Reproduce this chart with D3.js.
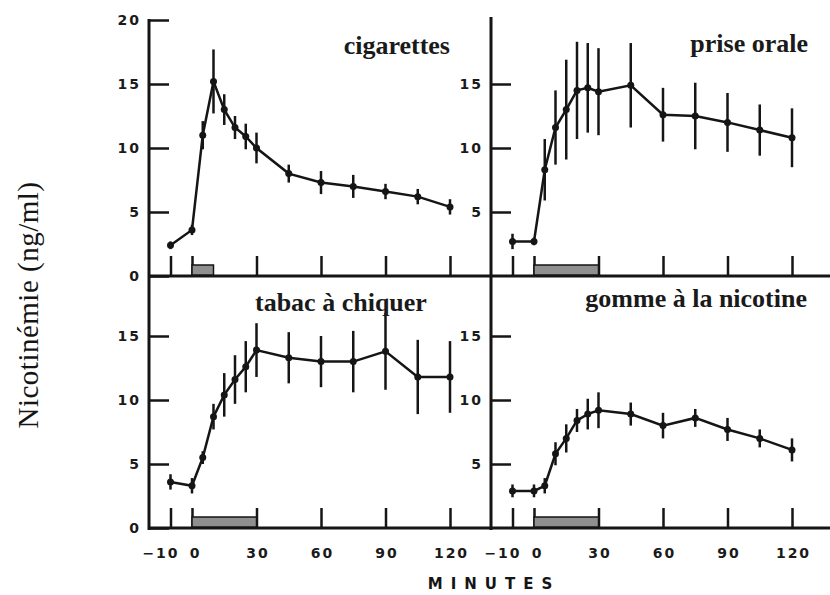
<!DOCTYPE html>
<html>
<head>
<meta charset="utf-8">
<script src="https://cdn.jsdelivr.net/npm/d3@7"></script>
<style>
  body { margin: 0; background: #fff; }
  .tick text { font-family: "DejaVu Sans", sans-serif; font-weight: bold; font-size: 14px; letter-spacing: 2px; fill: #1a1a1a; }
  .title { font-family: "Liberation Serif", "Times New Roman", serif; font-weight: bold; font-size: 26px; fill: #1a1a1a; }
</style>
</head>
<body>
<div id="chart"></div>
<script>
// data
var minutes = [-10, 0, 5, 10, 15, 20, 25, 30, 45, 60, 75, 90, 105, 120];

var cigarettes    = [2.4, 3.6, 11.0, 15.2, 13.0, 11.6, 10.9, 10.0, 8.0, 7.3, 7.0, 6.6, 6.2, 5.4];
var cigarettesErr = [0.3, 0.4, 1.1, 2.5, 1.2, 0.9, 1.0, 1.2, 0.7, 0.9, 0.9, 0.6, 0.6, 0.6];

var priseOrale    = [2.7, 2.7, 8.3, 11.6, 13.0, 14.5, 14.7, 14.4, 14.9, 12.6, 12.5, 12.0, 11.4, 10.8];
var priseOraleErr = [0.6, 0.3, 2.4, 2.9, 3.9, 3.8, 3.5, 3.4, 3.3, 2.1, 2.6, 2.3, 2.0, 2.3];

var tabac    = [3.6, 3.3, 5.5, 8.7, 10.4, 11.6, 12.6, 13.9, 13.3, 13.0, 13.0, 13.8, 11.8, 11.8];
var tabacErr = [0.6, 0.6, 0.5, 1.0, 1.7, 1.9, 2.0, 2.1, 2.0, 2.0, 2.4, 3.0, 2.9, 2.8];

var gomme    = [2.9, 2.9, 3.3, 5.8, 7.0, 8.4, 8.9, 9.2, 8.9, 8.0, 8.6, 7.7, 7.0, 6.1];
var gommeErr = [0.5, 0.5, 0.6, 0.9, 1.1, 0.9, 1.2, 1.4, 0.9, 1.0, 0.7, 0.9, 0.7, 0.9];

var panelNames = ["cigarettes", "prise orale", "tabac à chiquer", "gomme à la nicotine"];
var exposureStart = [0, 0, 0, 0];
var exposureEnd   = [10, 30, 30, 30];

var xTicks = [-10, 0, 30, 60, 90, 120];
var yTicksTopLeft = [0, 5, 10, 15, 20];
var yTicksTopRight = [5, 10, 15];
var yTicksBottomLeft = [0, 5, 10, 15];
var yTicksBottomRight = [5, 10, 15];

// layout
var svgWidth = 830, svgHeight = 595;
var ink = "#151515";

var svg = d3.select("#chart").append("svg")
  .attr("width", svgWidth)
  .attr("height", svgHeight);

var panels = [
  { col: 0, row: 0, values: cigarettes, err: cigarettesErr, yTicks: yTicksTopLeft,
    title: { x: 450, y: 54, anchor: "end" } },
  { col: 1, row: 0, values: priseOrale, err: priseOraleErr, yTicks: yTicksTopRight,
    title: { x: 808, y: 52, anchor: "end" } },
  { col: 0, row: 1, values: tabac, err: tabacErr, yTicks: yTicksBottomLeft,
    title: { x: 255, y: 311, anchor: "start" } },
  { col: 1, row: 1, values: gomme, err: gommeErr, yTicks: yTicksBottomRight,
    title: { x: 807, y: 307, anchor: "end" } }
];

var axisX = [149, 491];       // vertical axis line of each column
var baseY = [276, 528];       // zero line of each row

// frame
svg.append("line").attr("x1", 149).attr("x2", 149).attr("y1", 19).attr("y2", 530)
  .attr("stroke", ink).attr("stroke-width", 3);
svg.append("line").attr("x1", 491).attr("x2", 491).attr("y1", 17).attr("y2", 530)
  .attr("stroke", ink).attr("stroke-width", 3);
baseY.forEach(function (y) {
  svg.append("line").attr("x1", 148).attr("x2", 830).attr("y1", y).attr("y2", y)
    .attr("stroke", ink).attr("stroke-width", 3);
});

panels.forEach(function (p, idx) {
  var x0 = 192 + p.col * 342;
  var x = d3.scaleLinear().domain([0, 120]).range([x0, x0 + 258]);
  var y = d3.scaleLinear().domain([0, 20]).range([baseY[p.row], baseY[p.row] - 256]);

  var g = svg.append("g");

  // y axis (ticks point inward)
  var yAxis = g.append("g")
    .attr("transform", "translate(" + axisX[p.col] + ",0)")
    .call(d3.axisLeft(y).tickValues(p.yTicks).tickSizeInner(-20).tickSizeOuter(0).tickPadding(8));
  yAxis.select(".domain").remove();
  yAxis.selectAll(".tick line").attr("stroke", ink).attr("stroke-width", 2.5);

  // x tick marks standing on the zero line
  var xMarks = g.append("g")
    .attr("transform", "translate(0," + baseY[p.row] + ")")
    .call(d3.axisTop(x).tickValues(xTicks).tickSize(20).tickFormat(""));
  xMarks.select(".domain").remove();
  xMarks.selectAll(".tick line").attr("stroke", ink).attr("stroke-width", 2.5);

  // x tick labels under the bottom row
  if (p.row === 1) {
    var xLab = g.append("g")
      .attr("transform", "translate(0," + baseY[p.row] + ")")
      .call(d3.axisBottom(x).tickValues(xTicks).tickSize(0).tickPadding(20)
        .tickFormat(function (d) { return d < 0 ? "\u2212" + Math.abs(d) : d; }));
    xLab.select(".domain").remove();
    xLab.selectAll(".tick text")
      .attr("dx", function (d) { return d < 0 ? -10 : (d === 0 ? 3 : 1); });
  }

  // exposure bar
  g.append("rect")
    .attr("x", x(exposureStart[idx]))
    .attr("y", baseY[p.row] - 11)
    .attr("width", x(exposureEnd[idx]) - x(exposureStart[idx]))
    .attr("height", 10)
    .attr("fill", "#8f8f8f")
    .attr("stroke", ink)
    .attr("stroke-width", 1.5);

  var pts = minutes.map(function (m, i) { return { t: m, v: p.values[i], e: p.err[i] }; });

  // error bars
  g.selectAll(null).data(pts).enter().append("line")
    .attr("x1", function (d) { return x(d.t); })
    .attr("x2", function (d) { return x(d.t); })
    .attr("y1", function (d) { return y(d.v + d.e); })
    .attr("y2", function (d) { return y(d.v - d.e); })
    .attr("stroke", ink)
    .attr("stroke-width", 2.5);

  // mean curve
  var line = d3.line().x(function (d) { return x(d.t); }).y(function (d) { return y(d.v); });
  g.append("path").datum(pts)
    .attr("d", line)
    .attr("fill", "none")
    .attr("stroke", ink)
    .attr("stroke-width", 2.5);

  g.selectAll(null).data(pts).enter().append("circle")
    .attr("cx", function (d) { return x(d.t); })
    .attr("cy", function (d) { return y(d.v); })
    .attr("r", 3.5)
    .attr("fill", ink);

  g.append("text")
    .attr("class", "title")
    .attr("x", p.title.x)
    .attr("y", p.title.y)
    .attr("text-anchor", p.title.anchor)
    .text(panelNames[idx]);
});

// axis titles
svg.append("text")
  .attr("transform", "translate(38,305) rotate(-90)")
  .attr("text-anchor", "middle")
  .attr("font-family", "Liberation Serif, Times New Roman, serif")
  .attr("font-size", 29)
  .attr("letter-spacing", "0.5px")
  .attr("fill", ink)
  .text("Nicotinémie (ng/ml)");

svg.append("text")
  .attr("x", 494)
  .attr("y", 589)
  .attr("text-anchor", "middle")
  .attr("font-family", "DejaVu Sans, sans-serif")
  .attr("font-weight", "bold")
  .attr("font-size", 15)
  .attr("letter-spacing", "8px")
  .attr("fill", ink)
  .text("MINUTES");
</script>
</body>
</html>
